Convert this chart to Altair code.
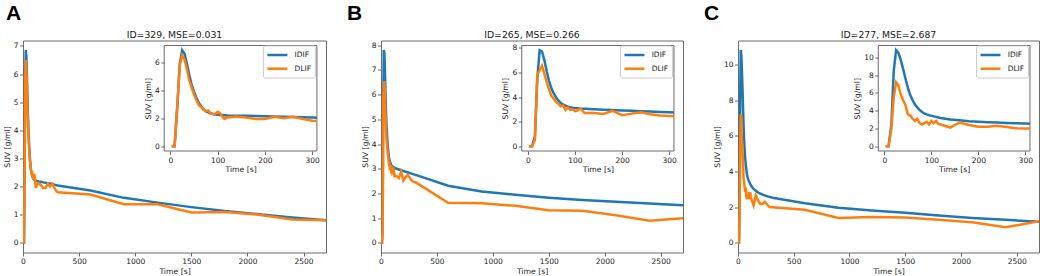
import altair as alt
import pandas as pd

# ---------------- data ----------------
TIME = [3, 9, 15, 20, 25, 30, 35, 40, 45, 50, 55, 60, 65, 70, 75, 80, 85, 90, 95, 100,
        105, 110, 115, 120, 140, 160, 180, 200, 220, 240, 260, 280, 300, 310,
        600, 900, 1200, 1500, 1800, 2100, 2400, 2700]

IDIF_A = [0, 0, 3.0, 5.9, 6.85, 6.6, 5.9, 5.1, 4.4, 3.9, 3.45, 3.1,
          2.85, 2.65, 2.5, 2.42, 2.36, 2.3, 2.27, 2.25,
          2.23, 2.22, 2.21, 2.2,
          2.18, 2.17, 2.15, 2.14, 2.12, 2.11, 2.09, 2.07, 2.05,
          2.04,
          1.86, 1.6, 1.43, 1.27, 1.13, 1.02, 0.9, 0.8]
DLIF_A = [0, 0, 3.0, 5.8, 6.5, 6.2, 5.5, 4.7, 4.2, 3.7, 3.3, 2.95,
          2.8, 2.6, 2.5, 2.55, 2.35, 2.3, 2.3, 2.45,
          2.35, 2.1, 1.95, 2.05,
          2.12, 2.05, 1.95, 1.95, 2.1, 2.0, 2.1, 1.95, 1.82,
          1.8,
          1.72, 1.37, 1.37, 1.08, 1.1, 1.0, 0.83, 0.8]

IDIF_B = [0, 0, 0.8, 5.5, 7.8, 7.7, 7.0, 6.1, 5.3, 4.7, 4.3, 3.95,
          3.7, 3.5, 3.38, 3.3, 3.22, 3.17, 3.13, 3.1,
          3.08, 3.06, 3.05, 3.04,
          3.0, 2.97, 2.94, 2.91, 2.88, 2.85, 2.82, 2.79, 2.76,
          2.75,
          2.31, 2.08, 1.95, 1.83, 1.73, 1.66, 1.59, 1.52]
DLIF_B = [0, 0, 0.5, 5.8, 6.2, 6.55, 5.9, 5.2, 4.6, 4.1, 3.85, 3.6,
          3.45, 3.25, 3.3, 2.95, 3.15, 2.95, 3.0, 2.85,
          2.9, 3.05, 2.95, 2.7,
          2.7, 2.62, 2.88, 2.52, 2.65, 2.75, 2.6, 2.5, 2.45,
          2.45,
          1.62, 1.6, 1.5, 1.32, 1.3, 1.12, 0.9, 1.0]

IDIF_C = [0, 0, 2.5, 8.5, 10.8, 10.5, 9.7, 8.7, 7.6, 6.6, 5.75, 5.2,
          4.7, 4.37, 4.1, 3.85, 3.7, 3.58, 3.5, 3.42,
          3.36, 3.3, 3.24, 3.18,
          3.02, 2.92, 2.82, 2.76, 2.7, 2.66, 2.62, 2.58, 2.55,
          2.53,
          2.22, 1.97, 1.81, 1.69, 1.53, 1.4, 1.29, 1.18]
DLIF_C = [0, 0, 2.0, 5.5, 7.2, 6.8, 5.8, 5.2, 4.6, 3.6, 3.45, 3.1,
          2.85, 3.1, 2.6, 2.45, 2.6, 2.75, 2.45, 2.85,
          2.6, 2.85, 2.5, 2.45,
          2.1, 2.67, 2.38, 2.18, 2.18, 2.3, 2.15, 2.02, 2.0,
          2.0,
          1.85, 1.4, 1.45, 1.42, 1.3, 1.15, 0.87, 1.21]

TITLES = ["ID=329, MSE=0.031", "ID=265, MSE=0.266", "ID=277, MSE=2.687"]
LETTERS = ["A", "B", "C"]
SERIES = ["IDIF", "DLIF"]
MAIN_X_TICKS = [0, 500, 1000, 1500, 2000, 2500]
INSET_X_TICKS = [0, 100, 200, 300]
MAIN_Y_TICKS = [[0, 1, 2, 3, 4, 5, 6, 7], [0, 1, 2, 3, 4, 5, 6, 7, 8], [0, 2, 4, 6, 8, 10]]
INSET_Y_TICKS = [[0, 2, 4, 6], [0, 2, 4, 6, 8], [0, 2, 4, 6, 8, 10]]
MAIN_X_DOMAIN = [0, 2700]
INSET_X_DOMAIN = [-13, 310]

# ---------------- style ----------------
BLUE = "#1f77b4"
ORANGE = "#ff7f0e"
FRAME = "#6a6a6a"
TXT = "#1a1a1a"
FONT = "DejaVu Sans"
H = 212
WIDTHS = [303, 302, 301]
LETTER_DX = [-17, -34, -34]
INSET_TOP = 5
INSET_BOTTOM = 110.5


def panel(i, idif, dlif):
    W = WIDTHS[i]
    n = len(TIME)
    df = pd.DataFrame({"t": TIME + TIME, "v": idif + dlif,
                       "s": [SERIES[0]] * n + [SERIES[1]] * n})
    vmax = max(idif + dlif)
    ydom = [-0.05 * vmax, 1.05 * vmax]

    x0, x1 = 0.466 * W, 0.970 * W
    legend = alt.Legend(title=None, orient="none", legendX=x1 - 54, legendY=INSET_TOP,
                        symbolType="M-1,0H3", symbolSize=100, symbolStrokeWidth=2.5,
                        labelFont=FONT, labelFontSize=7.5, labelColor=TXT, labelOffset=15.7,
                        padding=3, rowPadding=1.7, strokeColor="#cccccc", fillColor="white",
                        cornerRadius=2, offset=0)
    color = alt.Color("s:N", scale=alt.Scale(domain=SERIES, range=[BLUE, ORANGE]),
                      legend=legend)

    # main axes
    xm = alt.X("t:Q", scale=alt.Scale(domain=MAIN_X_DOMAIN, nice=False, zero=False),
               axis=alt.Axis(values=MAIN_X_TICKS, title="Time [s]", format="d"))
    ym = alt.Y("v:Q", scale=alt.Scale(domain=ydom, nice=False, zero=False),
               axis=alt.Axis(values=MAIN_Y_TICKS[i], title="SUV [g/ml]", format="d"))
    base = alt.Chart(df)
    main = alt.layer(*[
        base.transform_filter(alt.datum.s == s)
        .mark_line(strokeWidth=2.5, clip=True)
        .encode(x=xm, y=ym, color=color)
        for s in SERIES
    ])

    # inset axes
    xi_scale = alt.Scale(domain=INSET_X_DOMAIN, range=[x0, x1], nice=False, zero=False)
    yi_scale = alt.Scale(domain=ydom, range=[INSET_BOTTOM, INSET_TOP], nice=False, zero=False)
    xi_axis = alt.Axis(values=INSET_X_TICKS, title="Time [s]", orient="bottom", format="d",
                       offset=-(H - INSET_BOTTOM), zindex=1)
    yi_axis = alt.Axis(values=INSET_Y_TICKS[i], title="SUV [g/ml]", orient="left", format="d",
                       offset=-x0, zindex=1)
    frame = alt.Chart(pd.DataFrame({"k": [0]})).mark_rect(
        fill="white", stroke=FRAME, strokeWidth=1
    ).encode(
        x=alt.X(datum=INSET_X_DOMAIN[0], type="quantitative", scale=xi_scale, axis=xi_axis),
        x2=alt.X2(datum=INSET_X_DOMAIN[1]),
        y=alt.Y(datum=ydom[0], type="quantitative", scale=yi_scale, axis=yi_axis),
        y2=alt.Y2(datum=ydom[1]),
    )
    xi = alt.X("t:Q", scale=xi_scale, axis=xi_axis)
    yi = alt.Y("v:Q", scale=yi_scale, axis=yi_axis)
    inset = alt.layer(frame, *[
        base.transform_filter((alt.datum.s == s) & (alt.datum.t <= INSET_X_DOMAIN[1]))
        .mark_line(strokeWidth=2.5)
        .encode(x=xi, y=yi, color=color)
        for s in SERIES
    ])

    # panel heading (ID / MSE) above the plot area
    heading = alt.Chart(pd.DataFrame({"h": [TITLES[i]]})).mark_text(
        align="center", baseline="alphabetic", fontSize=9.3, font=FONT, color=TXT
    ).encode(x=alt.value(W / 2), y=alt.value(-2.5), text="h:N")

    return alt.layer(main, inset, heading).resolve_scale(
        x="independent", y="independent"
    ).properties(
        width=W, height=H,
        title=alt.Title(LETTERS[i], anchor="start", frame="group", dx=LETTER_DX[i],
                        baseline="alphabetic", offset=-10, fontSize=21,
                        font="Liberation Sans", fontWeight="bold", color="black"),
    )


pA = panel(0, IDIF_A, DLIF_A)
pB = panel(1, IDIF_B, DLIF_B)
pC = panel(2, IDIF_C, DLIF_C)

chart = alt.hconcat(pA, pB, pC, spacing=55, bounds="flush").resolve_scale(
    color="independent"
).properties(
    padding={"left": 2, "top": 2.5, "right": 0, "bottom": 0}
).configure_view(
    stroke=FRAME, strokeWidth=1
).configure_axis(
    grid=False, domain=False, tickColor=FRAME, tickSize=3.5, tickWidth=1,
    labelFont=FONT, labelFontSize=7.5, labelColor=TXT, labelPadding=1.5,
    labelFlush=False, labelOverlap=False,
    titleFont=FONT, titleFontSize=7.7, titleFontWeight="normal", titleColor=TXT,
    titlePadding=2
)

chart.save("out.html", embed_options={"renderer": "svg", "actions": False})
